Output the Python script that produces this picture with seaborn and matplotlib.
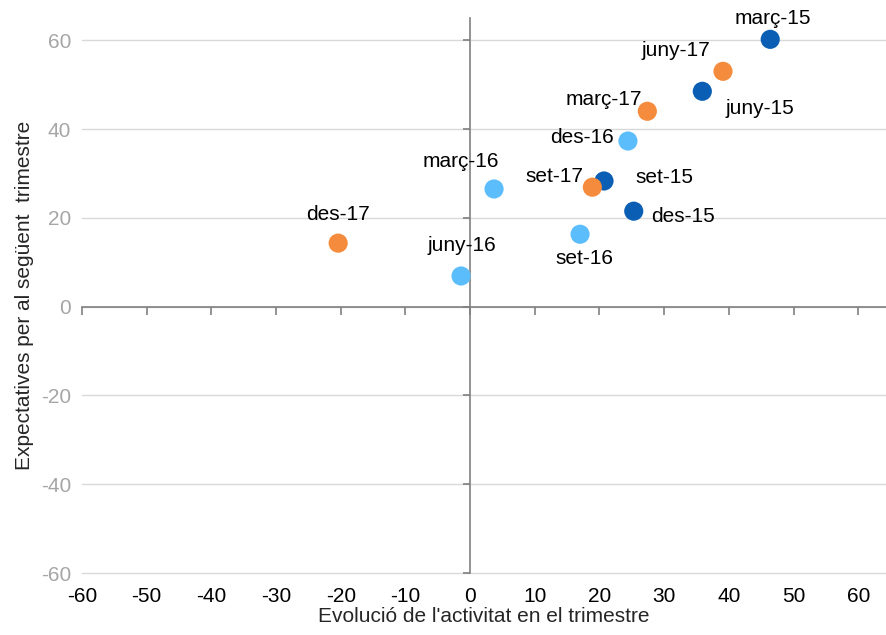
import matplotlib
matplotlib.use("Agg")
import matplotlib.pyplot as plt
import seaborn as sns
import pandas as pd

# Dades llegides del gràfic
etiquetes = ["març-15", "juny-15", "set-15", "des-15",
             "març-16", "juny-16", "set-16", "des-16",
             "març-17", "juny-17", "set-17", "des-17"]
activitat = [46.4, 35.9, 20.7, 25.3,
             3.7, -1.4, 17.0, 24.4,
             27.4, 39.1, 18.9, -20.4]
expectatives = [60.2, 48.5, 28.3, 21.5,
                26.5, 6.9, 16.3, 37.3,
                44.0, 53.0, 26.9, 14.3]
any_ = ["2015"] * 4 + ["2016"] * 4 + ["2017"] * 4
colors = {"2015": "#0A5EB4", "2016": "#5BBDFB", "2017": "#F58B3C"}

# desplaçament de cada etiqueta respecte al punt (píxels)
desplacaments = [(3, 21), (58, -17), (60, 3), (49, -5),
                 (-33, 27), (1, 30), (4, -24), (-46, 4),
                 (-44, 12), (-47, 21), (-38, 11), (0, 29)]

df = pd.DataFrame({"x": activitat, "y": expectatives, "any": any_, "etiqueta": etiquetes})

sns.set_style("white")
plt.rcParams["font.family"] = ["Liberation Sans", "DejaVu Sans"]
plt.rcParams["axes.unicode_minus"] = False

fig = plt.figure(figsize=(8.86, 6.35), dpi=100)
ax = fig.add_axes([0.0926, 0.0976, 0.9074, 0.874])

sns.scatterplot(data=df, x="x", y="y", hue="any", palette=colors, s=190,
                edgecolor="none", legend=False, ax=ax, zorder=3)

for lab, xx, yy, (dx, dy) in zip(etiquetes, activitat, expectatives, desplacaments):
    ax.annotate(lab, (xx, yy), xytext=(dx, dy), textcoords="offset pixels",
                ha="center", va="center", fontsize=15, color="black")

ax.set_xlim(-60, 64.3)
ax.set_ylim(-60, 65)
ax.set_xticks(range(-60, 61, 10))
ax.set_yticks(range(-60, 61, 20))

# línies de quadrícula horitzontals
for v in range(-60, 61, 20):
    ax.axhline(v, color="#D9D9D9", lw=1, zorder=0, clip_on=False)

# eixos creuats a zero
for s in ["top", "right"]:
    ax.spines[s].set_visible(False)
ax.spines["bottom"].set_position(("data", 0))
ax.spines["left"].set_position(("data", 0))
ax.spines["bottom"].set_color("#808080")
ax.spines["left"].set_color("#808080")
ax.spines["bottom"].set_linewidth(1.2)
ax.spines["left"].set_linewidth(1.2)
ax.spines["left"].set_bounds(-60, 65)
ax.tick_params(axis="x", bottom=True, direction="out", length=6, width=1.2,
               color="#808080", labelbottom=False)
ax.tick_params(axis="y", left=True, direction="out", length=5, width=1.2,
               color="#808080", labelleft=False)

# etiquetes dels eixos a les vores
secx = ax.secondary_xaxis(0)
secx.set_xticks(range(-60, 61, 10))
secx.spines["bottom"].set_visible(False)
secx.tick_params(length=0, labelsize=15, labelcolor="black", pad=10)

secy = ax.secondary_yaxis(0)
secy.set_yticks(range(-60, 61, 20))
secy.spines["left"].set_visible(False)
secy.tick_params(length=0, labelsize=15, labelcolor="#A6A6A6", pad=8)

secx.set_xlabel("Evolució de l'activitat en el trimestre", fontsize=15, labelpad=1)
secy.set_ylabel("Expectatives per al següent  trimestre", fontsize=15, labelpad=5)
ax.set_xlabel("")
ax.set_ylabel("")

fig.savefig("out.png", dpi=100)
